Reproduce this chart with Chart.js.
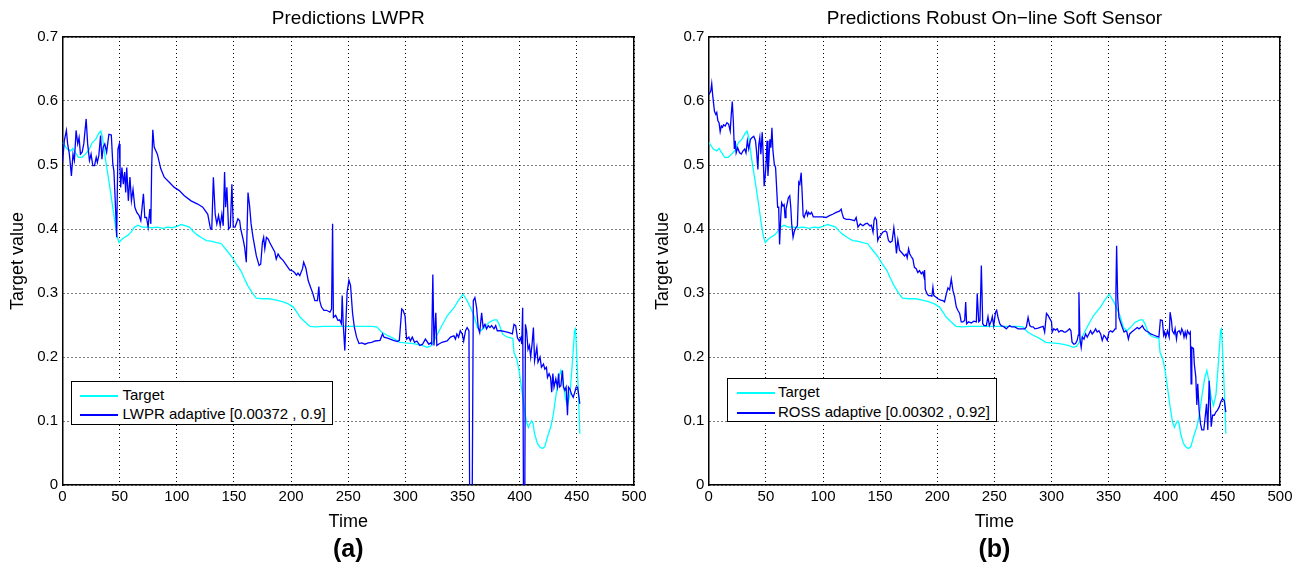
<!DOCTYPE html>
<html><head><meta charset="utf-8">
<script src="https://cdn.jsdelivr.net/npm/chart.js@4"></script>
<style>
html,body{margin:0;padding:0;background:#fff;}
body{width:1300px;height:569px;position:relative;overflow:hidden;font-family:"Liberation Sans",Arial,Helvetica,sans-serif;}
.panel{position:absolute;top:0;width:650px;height:569px;}
.legend{position:absolute;border:1.5px solid #000;background:#fff;box-sizing:border-box;font-size:15px;color:#000;}
.row{position:absolute;left:0;height:18px;line-height:18px;white-space:nowrap;}
.sw{position:absolute;height:1.5px;}
.tx{position:absolute;top:0;}
</style></head>
<body>
<div class="panel" style="left:0"><canvas id="c1" width="650" height="569"></canvas></div>
<div class="panel" style="left:650px"><canvas id="c2" width="650" height="569"></canvas></div>
<script>
// ---- data ----
const xTickLabels = ['0','50','100','150','200','250','300','350','400','450','500'];
const yTickLabels = ['0','0.1','0.2','0.3','0.4','0.5','0.6','0.7'];

const targetT = [0,1,4,7,9,11,14,17,20,23,26,29,32,33.5,35,37.5,40.5,43.5,46,48,49.5,52,55,57,60,63,66,68,70,74,78,83,88,92,96,100,104,108,111,114,117,121,126,130,134,139,143,148,152,156,159,162,166.5,169.5,175,181,187,193,197.5,202,205,208,212,216.5,222,228,234,240,246,252,258,264,270,275,279,284,289.5,295,300,307,314.5,319,322,325,331,336.5,342.5,347,350.5,354,357,360,363,366,369,373,377.5,380,382,385,388,392,394,395,397.4,399.4,401.5,403.8,406,407.6,409,410.5,411.7,413,415.5,417.8,420,422,424.3,427.2,429.5,431.9,434.2,436,437.7,439.8,441.8,444,446,448,448.8,450,451.5,452.6];
const targetV = [0.535,0.533,0.525,0.522,0.526,0.52,0.512,0.512,0.517,0.523,0.535,0.54,0.55,0.553,0.543,0.51,0.476,0.44,0.408,0.387,0.379,0.384,0.388,0.39,0.395,0.403,0.406,0.404,0.403,0.403,0.402,0.403,0.401,0.403,0.402,0.404,0.407,0.405,0.403,0.397,0.392,0.387,0.382,0.381,0.379,0.377,0.368,0.357,0.345,0.335,0.323,0.312,0.299,0.292,0.291,0.291,0.289,0.286,0.283,0.278,0.27,0.262,0.255,0.248,0.247,0.248,0.248,0.248,0.248,0.248,0.248,0.248,0.248,0.247,0.239,0.234,0.229,0.223,0.222,0.221,0.218,0.215,0.217,0.225,0.246,0.264,0.277,0.29,0.298,0.288,0.277,0.264,0.246,0.241,0.246,0.254,0.258,0.258,0.251,0.236,0.232,0.23,0.229,0.207,0.197,0.179,0.153,0.122,0.098,0.09,0.096,0.1,0.096,0.08,0.065,0.059,0.057,0.06,0.075,0.091,0.111,0.142,0.168,0.179,0.163,0.137,0.124,0.142,0.189,0.241,0.244,0.2,0.137,0.08];

const lwprT = [0,1.6,3.4,4.5,6,7.8,9.2,10.4,11.9,13.3,14.5,15.7,17.2,18.6,20.7,22,23.6,25,26.5,28,29.5,30.5,31.8,33.3,34.5,35.6,37,38.6,40.6,42.7,44,45,46.5,47.4,48.5,49.7,50.3,50.9,52,53.2,54.4,55.3,56.2,57.6,59,60.3,61.7,63.3,65,67,68.5,70.8,72,73.5,74.9,76.4,77.3,78,79,80.2,83,86,89,93.4,97.8,102.2,106.6,112.5,118.3,122.7,127.1,129.5,130.6,132,133.6,135,136.5,138,139.4,140.6,141.8,142.7,143.8,145.3,146.8,148.2,149.4,151,153.5,155,155.9,158,159.4,160.8,162.3,163.7,165,166.7,169.6,172,173.4,174.9,176,177,178.4,180,181.3,183.6,185.7,187,188.6,190.6,193,196,198.8,201.8,203,204.7,206,207.6,210,211,212.9,215,217,218.7,220.8,223,224.3,225,226.6,228.7,231,234,235.4,236.3,237,239,241,242.5,244,244.7,245.6,247,248,249,250.6,252,253.8,255.3,257.3,259.4,262,264.6,267.5,270.5,273.4,277.8,280,281.3,285,289.5,293,294.7,296.8,298,299.7,301,303,304.4,306,308,310,312.6,315,317.5,320.5,322,323,324,325,326.6,327.5,329,332,336.5,339.5,342.4,343.8,345,346.5,348,349.7,351,352.6,354,355.6,356.4,358.2,359.4,360.8,362.3,363.7,365,366.7,368,369.6,371,372.5,374,375.4,377.5,379,380.4,383.3,386.3,390.6,393.6,395,396.5,398,399.7,401,401.8,402.6,403.5,404.3,405,406,407.3,408.5,409.6,410.8,412,413,415,416,417.8,419,420.8,422,423.4,424.3,425.7,427,428,429,430,431.6,433,434,434.8,436,437.4,438.3,439.5,440.6,441.8,442.7,443.9,445.3,446.8,448.2,449.4,450.6,451.5,452.6];
const lwprV = [0.504,0.538,0.554,0.533,0.517,0.483,0.517,0.507,0.554,0.533,0.543,0.517,0.52,0.533,0.572,0.533,0.507,0.517,0.499,0.499,0.512,0.504,0.515,0.546,0.509,0.528,0.533,0.52,0.548,0.547,0.502,0.49,0.429,0.387,0.525,0.533,0.497,0.465,0.496,0.47,0.489,0.457,0.496,0.444,0.481,0.444,0.462,0.434,0.426,0.421,0.413,0.455,0.418,0.418,0.403,0.431,0.408,0.496,0.555,0.528,0.517,0.494,0.481,0.473,0.465,0.46,0.452,0.444,0.439,0.434,0.423,0.4,0.4,0.481,0.423,0.408,0.421,0.405,0.423,0.405,0.489,0.434,0.465,0.4,0.403,0.47,0.403,0.403,0.416,0.413,0.4,0.384,0.371,0.348,0.457,0.436,0.408,0.387,0.358,0.343,0.345,0.379,0.387,0.369,0.387,0.384,0.379,0.371,0.364,0.353,0.361,0.355,0.351,0.343,0.336,0.334,0.332,0.328,0.331,0.327,0.338,0.348,0.339,0.319,0.309,0.301,0.288,0.288,0.31,0.288,0.278,0.273,0.273,0.27,0.275,0.408,0.262,0.265,0.257,0.258,0.252,0.296,0.252,0.21,0.257,0.301,0.32,0.312,0.268,0.247,0.231,0.221,0.222,0.22,0.222,0.223,0.225,0.226,0.236,0.231,0.229,0.226,0.224,0.226,0.275,0.273,0.264,0.228,0.231,0.225,0.231,0.223,0.225,0.218,0.22,0.228,0.22,0.222,0.22,0.329,0.218,0.269,0.218,0.22,0.223,0.225,0.231,0.233,0.228,0.236,0.231,0.241,0.236,0.225,0.241,0.246,0.241,-0.1,-0.1,0.288,0.293,0.277,0.246,0.238,0.269,0.246,0.251,0.244,0.249,0.246,0.249,0.244,0.249,0.241,0.241,0.24,0.238,0.236,0.251,0.249,0.23,0.225,0.23,0.22,0.277,-0.1,-0.1,0.251,0.241,0.212,0.218,0.2,0.22,0.246,0.194,0.215,0.192,0.2,0.184,0.189,0.181,0.184,0.168,0.174,0.168,0.145,0.174,0.153,0.166,0.153,0.174,0.153,0.155,0.179,0.153,0.148,0.153,0.109,0.153,0.15,0.142,0.137,0.145,0.153,0.153,0.142,0.127];

const rossT = [0.3,1.8,2.6,3.5,5,6.2,7,8,9,10,11,12,13,14.4,15.9,17.4,18.8,19.7,20.6,21.5,22.4,23.2,24,25.3,27,28.5,30,31.5,32.6,33.8,35,36.5,38,39.4,40.9,41.8,43,43.8,44.7,45.6,46.8,47.6,48.5,49.4,50.3,51,51.8,52.6,53.5,54.4,55.3,56.2,57.4,58.5,59.4,60.3,61.2,62,63,63.8,65,66,66.8,67.6,68.8,69.7,70.9,71.8,72.6,73.8,75,76.2,77.6,78.8,79.7,80.9,81.8,82.6,83.5,84.4,85.6,86.5,87.4,88.7,90,91.5,96.8,99.7,102.6,105.6,108.5,111.5,114.4,115.9,116.8,118,120.3,123.2,126,127.6,129,130.6,132.6,135,137,138.8,140.9,142.3,143.8,144.7,145.6,146.8,147.9,149,150.5,152.3,154.4,155.8,157.3,158.8,160.5,162,163.2,164.3,165.5,167,168.4,169.9,171.3,172.8,173.7,174.9,176,177.2,178.7,180,181.6,183,184.5,186,187.3,188.3,188.9,189.5,191,192.4,193.9,195.3,196.2,197,198.5,200.6,203,205,206.4,208,209.4,210.8,212.3,213.7,215.2,216.7,218,219.6,221,222.5,224,224.9,225.7,227.5,229.8,232,234.2,235,236.3,237.4,238.6,239.8,241,243,244.4,245.6,247.4,248.2,249.4,251,252,253.2,254.7,256,258.5,260.5,262,263.4,265,267.8,270.8,273.7,276.6,278,279.5,281,282.5,284,285.5,288.3,291.2,292.7,294,295.6,297,298.5,300,300.6,302,303.5,305,306.4,308,309.4,311,312.3,314,315.8,317,318,319.6,321,322.5,323.4,324,324.9,326,327,328.4,329.8,331.3,332.7,334.2,335.6,337,338.6,340,341.5,343,344.4,345.9,347.3,348.8,350.3,351.7,353.2,354.4,355.6,356.4,357,357.9,359,360.5,362,363.5,365,366,367.3,368.4,370.2,371.6,373.7,375,376.6,378,379.5,381,382.5,384.8,386.8,389.8,392.7,394,395.3,397,398.2,399,400,401.5,403,403.8,405,405.8,407.3,408.2,409.4,410.2,411.7,413,414,415.2,416,417,418,419,420.5,421.5,422.2,422.8,424.3,425,426.3,427.2,428,429.2,430.4,431.6,433.3,434.5,435.7,436.8,438,439,439.8,441,442.5,443.9,445.3,446.8,448.2,449.7,451.2,452.6];
const rossV = [0.61,0.616,0.627,0.608,0.584,0.579,0.582,0.569,0.566,0.552,0.561,0.559,0.563,0.561,0.566,0.564,0.553,0.579,0.599,0.569,0.525,0.538,0.519,0.527,0.519,0.517,0.522,0.525,0.519,0.538,0.525,0.54,0.543,0.545,0.538,0.522,0.493,0.532,0.543,0.517,0.551,0.517,0.467,0.483,0.506,0.538,0.483,0.506,0.54,0.527,0.558,0.522,0.501,0.496,0.465,0.434,0.434,0.376,0.418,0.441,0.436,0.438,0.418,0.431,0.441,0.449,0.452,0.434,0.408,0.387,0.397,0.402,0.405,0.473,0.47,0.488,0.454,0.421,0.418,0.423,0.428,0.421,0.426,0.423,0.426,0.419,0.419,0.419,0.418,0.421,0.423,0.426,0.428,0.431,0.424,0.417,0.415,0.415,0.414,0.413,0.418,0.403,0.408,0.405,0.408,0.409,0.405,0.406,0.395,0.414,0.418,0.414,0.382,0.387,0.39,0.395,0.397,0.395,0.382,0.379,0.381,0.402,0.384,0.362,0.383,0.367,0.364,0.361,0.358,0.361,0.355,0.369,0.361,0.357,0.353,0.34,0.338,0.332,0.335,0.33,0.333,0.326,0.336,0.306,0.299,0.296,0.296,0.295,0.309,0.296,0.294,0.291,0.289,0.288,0.286,0.299,0.308,0.305,0.322,0.304,0.294,0.278,0.273,0.268,0.255,0.255,0.257,0.286,0.252,0.255,0.253,0.256,0.255,0.299,0.255,0.257,0.343,0.252,0.249,0.249,0.263,0.249,0.257,0.263,0.249,0.27,0.273,0.262,0.252,0.249,0.247,0.244,0.247,0.249,0.247,0.247,0.244,0.244,0.244,0.247,0.262,0.249,0.247,0.247,0.244,0.245,0.247,0.248,0.239,0.268,0.265,0.26,0.255,0.239,0.244,0.242,0.244,0.239,0.241,0.241,0.239,0.239,0.241,0.244,0.241,0.223,0.22,0.221,0.226,0.234,0.301,0.228,0.215,0.231,0.228,0.236,0.231,0.236,0.241,0.236,0.239,0.244,0.239,0.241,0.236,0.226,0.234,0.231,0.226,0.239,0.241,0.239,0.241,0.244,0.304,0.374,0.293,0.262,0.254,0.246,0.239,0.241,0.239,0.228,0.236,0.239,0.241,0.244,0.246,0.244,0.246,0.249,0.244,0.241,0.239,0.236,0.234,0.232,0.231,0.258,0.257,0.234,0.239,0.231,0.241,0.231,0.27,0.257,0.241,0.236,0.244,0.228,0.239,0.241,0.236,0.244,0.239,0.231,0.239,0.231,0.241,0.236,0.239,0.158,0.215,0.213,0.189,0.169,0.125,0.158,0.117,0.096,0.086,0.086,0.106,0.127,0.086,0.163,0.127,0.091,0.109,0.109,0.114,0.117,0.122,0.13,0.135,0.132,0.114];

// ---- styling ----
const FONT = '"Liberation Sans", Arial, Helvetica, sans-serif';
const CYAN = '#00ffff';
const BLUE = '#0000ff';
Chart.defaults.font.family = FONT;
Chart.defaults.color = '#000';

const pts = (ts, vs) => ts.map((t, i) => ({x: t, y: vs[i]}));

function build(id, cfg) {
  return new Chart(document.getElementById(id), {
    type: 'line',
    data: {datasets: [
      {label: 'Target', data: pts(targetT, targetV), borderColor: CYAN, borderWidth: 1.3, pointRadius: 0, tension: 0, order: 1},
      {label: cfg.label, data: pts(cfg.t, cfg.v), borderColor: BLUE, borderWidth: 1.3, pointRadius: 0, tension: 0, order: 0}
    ]},
    options: {
      responsive: false, animation: false, devicePixelRatio: 1,
      layout: {padding: {left: 0, right: cfg.padRight, top: 0, bottom: 0}},
      plugins: {
        legend: {display: false}, tooltip: {enabled: false},
        title: {display: true, text: cfg.title, fullSize: false, color: '#000',
                font: {size: 19, weight: 'normal', lineHeight: 1.2}, padding: {top: 7.6, bottom: 6.6}},
        subtitle: {display: true, text: cfg.sub, position: 'bottom', fullSize: false, color: '#000',
                   font: {size: 25, weight: 'bold', lineHeight: 1}, padding: {top: 1.5, bottom: 6.5}}
      },
      scales: {
        x: {type: 'linear', position: 'bottom', min: 0, max: 500,
            ticks: {stepSize: 50, padding: 3, font: {size: 15}, color: '#000', maxRotation: 0, autoSkip: false,
                    callback: v => xTickLabels[Math.round(v / 50)]},
            grid: {color: '#000', lineWidth: 1, drawTicks: false},
            border: {display: true, color: '#000', width: 1.5, dash: [1, 3]},
            title: {display: true, text: 'Time', font: {size: 18}, color: '#000', padding: {top: 0, bottom: 3}},
            afterFit: s => { s.height = 51; }},
        y: {type: 'linear', position: 'left', min: 0, max: 0.7,
            ticks: {stepSize: 0.1, padding: 4.5, font: {size: 15}, color: '#000',
                    callback: v => yTickLabels[Math.round(v * 10)]},
            grid: {color: '#000', lineWidth: 1, drawTicks: false},
            border: {display: true, color: '#000', width: 1.5, dash: [1, 3]},
            title: {display: true, text: 'Target value', font: {size: 18}, color: '#000', padding: {top: cfg.yTitlePad, bottom: 0}},
            afterFit: s => { s.width = cfg.yWidth; }},
        x2: {type: 'linear', position: 'top', min: 0, max: 500,
             ticks: {display: false}, grid: {display: false},
             border: {display: true, color: '#000', width: 1.5},
             afterFit: s => { s.height = 0; }},
        y2: {type: 'linear', position: 'right', min: 0, max: 0.7,
             ticks: {display: false}, grid: {display: false},
             border: {display: true, color: '#000', width: 1.5},
             afterFit: s => { s.width = 0; }}
      }
    }
  });
}

function legend(chart, box) {
  const d = document.createElement('div');
  d.className = 'legend';
  Object.assign(d.style, {left: box.left + 'px', top: box.top + 'px', width: box.width + 'px', height: box.height + 'px'});
  chart.data.datasets.forEach((ds, i) => {
    const r = document.createElement('div');
    r.className = 'row';
    r.style.top = (box.rowY[i] - 9) + 'px';
    r.style.width = '100%';
    const sw = document.createElement('div');
    sw.className = 'sw';
    Object.assign(sw.style, {left: box.lineX[0] + 'px', width: (box.lineX[1] - box.lineX[0]) + 'px', top: '9px', background: ds.borderColor});
    const tx = document.createElement('span');
    tx.className = 'tx';
    tx.style.left = box.textX + 'px';
    tx.textContent = ds.label;
    r.appendChild(sw); r.appendChild(tx);
    d.appendChild(r);
  });
  document.body.appendChild(d);
}

const c1 = build('c1', {title: 'Predictions LWPR', sub: '(a)', label: 'LWPR adaptive [0.00372 , 0.9]',
  t: lwprT, v: lwprV, padRight: 16, yWidth: 62.5, yTitlePad: 7});
const c2 = build('c2', {title: 'Predictions Robust On\u2212line Soft Sensor', sub: '(b)', label: 'ROSS adaptive [0.00302 , 0.92]',
  t: rossT, v: rossV, padRight: 20, yWidth: 58.75, yTitlePad: 2.5});

legend(c1, {left: 71, top: 381, width: 262, height: 44, rowY: [13, 32], lineX: [8, 46], textX: 50.5});
legend(c2, {left: 727, top: 378, width: 270, height: 44, rowY: [13, 33], lineX: [8.5, 47], textX: 50});
</script>
</body></html>
